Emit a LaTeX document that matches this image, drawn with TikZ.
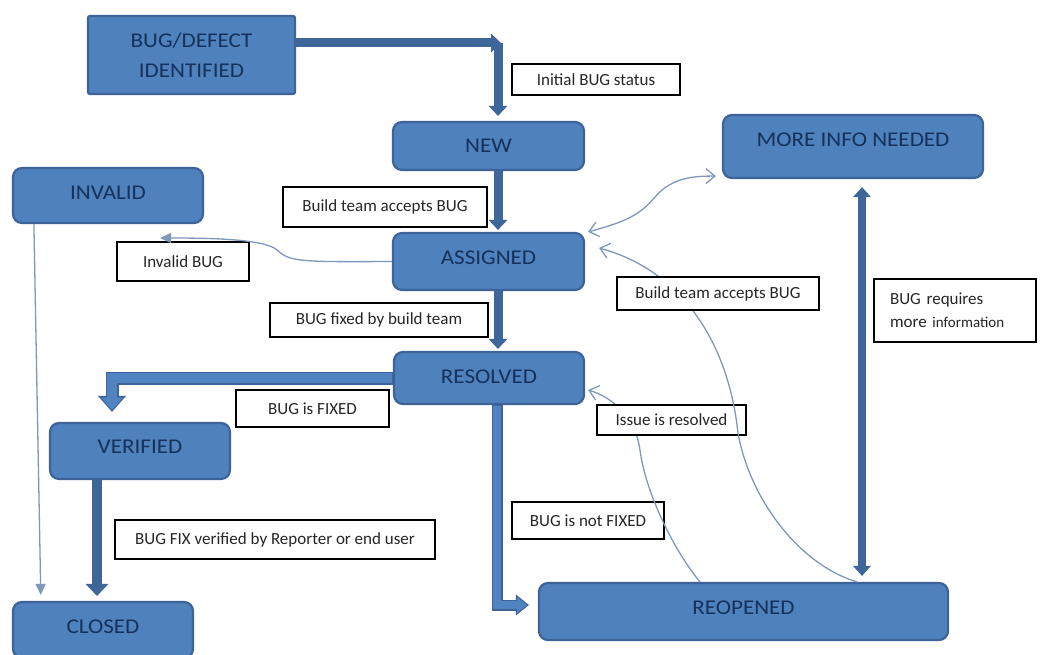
\documentclass[tikz,border=0pt]{standalone}
\usepackage{fontspec}
\setmainfont{Carlito}
\newfontfamily\nodefam[FakeStretch=1.1]{Carlito}
\usetikzlibrary{arrows.meta}
\definecolor{nfill}{HTML}{4F81BD}
\definecolor{nborder}{HTML}{3D6398}
\definecolor{ntext}{HTML}{14325C}
\definecolor{thkc}{HTML}{3E6699}
\definecolor{thinc}{HTML}{7E98BB}
\definecolor{ofill}{HTML}{5083C0}
\begin{document}
\begin{tikzpicture}[x=1pt,y=-1pt,
  state/.style={draw=nborder, fill=nfill, line width=2.2pt, rounded corners=9pt, inner sep=0pt,
    text=ntext, font=\nodefam\fontsize{21}{30}\selectfont},
  tx/.style={text height=13.3pt, text depth=#1},
  lbl/.style={draw=black, fill=white, line width=1.1pt, inner sep=0pt,
    font=\fontsize{17}{23}\selectfont, text=black!85},
  thk/.style={draw=thkc, line width=9pt, -{Triangle[width=19pt,length=10pt,line width=0pt]}},
  thkv/.style={draw=thkc, line width=10pt, -{Triangle[width=23pt,length=12pt,line width=0pt]}},
  thkd/.style={draw=thkc, line width=8pt, {Triangle[width=18pt,length=10pt,line width=0pt]}-{Triangle[width=18pt,length=10pt,line width=0pt]}},
  thin/.style={draw=thinc, line width=1.3pt},
  barb/.style={-{Straight Barb[length=9pt,width=15pt]}},
  dbarb/.style={{Straight Barb[length=9pt,width=15pt]}-{Straight Barb[length=9pt,width=15pt]}},
  tri/.style={-{Triangle[length=11pt,width=10pt]}},
]
\fill[white] (0,0) rectangle (1041,655);
\useasboundingbox (0,0) rectangle (1041,655);

% states
\node[state, rounded corners=2pt, minimum width=207pt, minimum height=78pt, align=center] (bug) at (191.5,55) {BUG/DEFECT\\IDENTIFIED};
\node[state, tx=0pt, minimum width=191pt, minimum height=48pt] (new) at (488.5,146) {NEW};
\node[state, tx=13pt, minimum width=260pt, minimum height=63pt] (more) at (853,146.5) {MORE INFO NEEDED};
\node[state, tx=5pt, minimum width=190pt, minimum height=55pt] (invalid) at (108,195.5) {INVALID};
\node[state, tx=7pt, minimum width=191pt, minimum height=57pt] (assigned) at (488.5,261.5) {ASSIGNED};
\node[state, tx=3pt, minimum width=190pt, minimum height=52pt] (resolved) at (489,378) {RESOLVED};
\node[state, tx=8pt, minimum width=180pt, minimum height=56pt] (verified) at (140,451) {VERIFIED};
\node[state, tx=6pt, minimum width=180pt, minimum height=56pt] (closed) at (103,630) {CLOSED};
\node[state, tx=7pt, minimum width=409pt, minimum height=57pt] (reopened) at (743.5,611.5) {REOPENED};

% labels
\node[lbl, minimum width=168pt, minimum height=31pt] (initl) at (596,79.5) {Initial BUG status};
\node[lbl, minimum width=204pt, minimum height=40pt] (accl) at (385,207) {Build team accepts BUG};
\node[lbl, minimum width=132pt, minimum height=39pt] (invl) at (183,261.5) {Invalid BUG};
\node[lbl, minimum width=218pt, minimum height=34pt] (fixl) at (379,320) {BUG fixed by build team};
\node[lbl, minimum width=162pt, minimum height=63pt, text width=130pt, align=left] (reql) at (955,310.5) {BUG requires\\more {\fontsize{15}{23}\selectfont information}};
\node[lbl, minimum width=153pt, minimum height=37pt] (fixedl) at (312.5,408.5) {BUG is FIXED};
\node[lbl, minimum width=152pt, minimum height=37pt] (notl) at (588,520.5) {BUG is not FIXED};
\node[lbl, minimum width=320pt, minimum height=39pt] (verl) at (275,539.5) {BUG FIX verified by Reporter or end user};

% thin connectors
\coordinate (invtip) at (160,238);
\draw[thin, tri] (assigned.west) .. controls (300,262) and (290,262) .. (277,250)
  .. controls (265,239) and (210,238) .. (invtip);
\draw[thin, tri, shorten >=6pt] ([xshift=22pt]invalid.south west) -- ([xshift=29pt]closed.north west);
\draw[thin, dbarb] ([xshift=3pt]assigned.north east)
  .. controls (625,222) and (640,215) .. (655,197)
  .. controls (672,177) and (695,176) .. ([xshift=-6pt,yshift=3pt]more.south west);
\draw[thin, barb] ([xshift=-43.5pt]reopened.north) .. controls (672,548) and (645,490) .. (640,450)
  .. controls (636,420) and (615,398) .. ([xshift=3pt,yshift=-12pt]resolved.east);
\node[lbl, minimum width=149pt, minimum height=30pt] (resl) at (671.5,420) {Issue is resolved};
\draw[thin, barb] ([xshift=113.5pt]reopened.north) .. controls (800,565) and (750,500) .. (738,433)
  .. controls (728,340) and (680,270) .. ([xshift=14pt,yshift=13.5pt]assigned.east);
\node[lbl, minimum width=202pt, minimum height=33pt] (accr) at (718,293.5) {Build team accepts BUG};

% thick connectors
\coordinate (c1) at (498,43);
\draw[thk] ([yshift=12pt]bug.east) -- ([xshift=3pt]c1);
\draw[thk, shorten >=5pt] (c1) -- (new.north -| c1);
\draw[thk, shorten >=2pt] (new.south -| c1) -- (assigned.north -| c1);
\draw[thk, shorten >=2pt] (assigned.south -| c1) -- (resolved.north -| c1);
\draw[thkv, shorten >=5pt] ([xshift=-43pt]verified.south) -- ([xshift=-6pt]closed.north);
\draw[thkd, shorten <=8pt, shorten >=6pt] ([xshift=9pt]more.south) -- ([xshift=9pt]more.south |- reopened.north);

% outlined block arrows
\coordinate (vtip) at ([xshift=-28pt,yshift=10pt]verified.north);
\draw[nborder, line width=13pt, -{Triangle[width=28pt,length=16pt,line width=0pt]}] (resolved.west) -| (vtip);
\draw[ofill, line width=9.5pt, -{Triangle[width=22pt,length=12.5pt,line width=0pt]}, shorten >=1.8pt] ([xshift=-1pt]resolved.west) -| (vtip);
\coordinate (rtip) at ([xshift=-9pt,yshift=6.5pt]reopened.west);
\draw[nborder, line width=11pt, -{Triangle[width=21pt,length=13pt,line width=0pt]}] ([xshift=8pt]resolved.south) |- (rtip);
\draw[ofill, line width=7.5pt, -{Triangle[width=16pt,length=10pt,line width=0pt]}, shorten >=1.8pt] ([xshift=8pt,yshift=-1pt]resolved.south) |- (rtip);
\end{tikzpicture}
\end{document}
